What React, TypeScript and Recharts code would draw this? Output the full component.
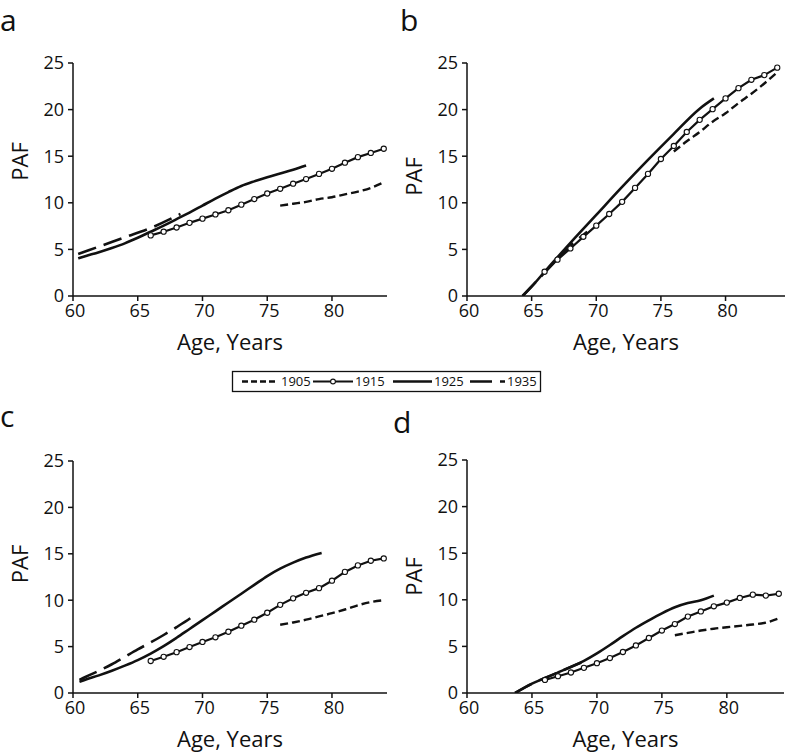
import { Line, LineChart, XAxis, YAxis } from "recharts";

const INK = "#111";
const FONT = "'Open Sans', sans-serif";

const X_TICKS = [60, 65, 70, 75, 80];
const Y_TICKS = [0, 5, 10, 15, 20, 25];

// ages shared by the 1905 and 1915 cohorts in every panel
const AGES_1905 = [76, 77, 78, 79, 80, 81, 82, 83, 84];
const AGES_1915 = [66, 67, 68, 69, 70, 71, 72, 73, 74, 75, 76, 77, 78, 79, 80, 81, 82, 83, 84];

// panel a
const A_PAF_1905 = [9.7, 9.9, 10.1, 10.4, 10.6, 10.9, 11.2, 11.6, 12.2];
const A_PAF_1915 = [6.5, 6.9, 7.35, 7.85, 8.3, 8.75, 9.2, 9.8, 10.4, 11.0, 11.5, 12.05, 12.55, 13.1, 13.65, 14.3, 14.9, 15.35, 15.8];
const A_AGES_1925 = [60.4, 61, 62, 63, 64, 65, 66, 67, 68, 69, 70, 71, 72, 73, 74, 75, 76, 77, 78];
const A_PAF_1925 = [4.05, 4.3, 4.7, 5.15, 5.65, 6.25, 6.9, 7.55, 8.25, 8.95, 9.7, 10.45, 11.15, 11.8, 12.3, 12.75, 13.15, 13.55, 14.0];
const A_AGES_1935 = [60.4, 62, 64, 66, 68.3];
const A_PAF_1935 = [4.5, 5.3, 6.3, 7.3, 8.8];

// panel b
const B_PAF_1905 = [15.5, 16.6, 17.6, 18.7, 19.6, 20.7, 21.7, 22.8, 24.0];
const B_PAF_1915 = [2.6, 3.9, 5.1, 6.35, 7.55, 8.8, 10.1, 11.6, 13.1, 14.7, 16.1, 17.6, 18.9, 20.05, 21.2, 22.3, 23.2, 23.7, 24.5];
const B_AGES_1925 = [64.3, 65, 66, 68, 70, 72, 74, 76, 78, 79.1];
const B_PAF_1925 = [0, 1.0, 2.6, 5.7, 8.7, 11.7, 14.6, 17.4, 20.1, 21.2];
const B_AGES_1935 = [64.3, 66, 68, 69.3];
const B_PAF_1935 = [0, 2.5, 5.4, 6.9];

// panel c
const C_PAF_1905 = [7.35, 7.6, 7.9, 8.25, 8.6, 9.0, 9.45, 9.8, 10.0];
const C_PAF_1915 = [3.45, 3.9, 4.4, 4.95, 5.5, 6.0, 6.6, 7.25, 7.9, 8.65, 9.5, 10.2, 10.8, 11.3, 12.1, 13.05, 13.75, 14.25, 14.5];
const C_AGES_1925 = [60.5, 61, 62, 63, 64, 65, 66, 67, 68, 69, 70, 71, 72, 73, 74, 75, 76, 77, 78, 79.2];
const C_PAF_1925 = [1.2, 1.45, 1.9, 2.4, 2.95, 3.55, 4.25, 5.05, 5.95, 6.9, 7.85, 8.8, 9.75, 10.7, 11.65, 12.6, 13.4, 14.05, 14.6, 15.1];
const C_AGES_1935 = [60.5, 61, 62, 63, 64, 65, 66, 67, 68, 69, 69.5];
const C_PAF_1935 = [1.4, 1.75, 2.4, 3.1, 3.9, 4.7, 5.45, 6.25, 7.1, 8.0, 8.5];

// panel d
const D_PAF_1905 = [6.2, 6.45, 6.7, 6.9, 7.05, 7.2, 7.35, 7.55, 8.0];
const D_PAF_1915 = [1.4, 1.8, 2.2, 2.7, 3.2, 3.75, 4.4, 5.1, 5.9, 6.7, 7.4, 8.2, 8.75, 9.3, 9.7, 10.2, 10.55, 10.45, 10.65];
const D_AGES_1925 = [63.7, 65, 66, 67, 68, 69, 70, 71, 72, 73, 74, 75, 76, 77, 78, 79];
const D_PAF_1925 = [0, 1.0, 1.6, 2.2, 2.8, 3.45, 4.25, 5.15, 6.1, 7.0, 7.8, 8.55, 9.2, 9.65, 9.95, 10.45];
const D_AGES_1935 = [63.7, 65, 67, 69];
const D_PAF_1935 = [0, 1.0, 2.2, 3.4];

type Pt = { age: number; paf: number };
const zip = (ages: number[], paf: number[]): Pt[] => ages.map((age, i) => ({ age, paf: paf[i] }));

type PanelProps = {
  left: number;
  top: number;
  width: number;
  height: number;
  margin: { top: number; right: number; left: number; bottom: number };
  xMax: number;
  pafShift: number;
  s1905: Pt[];
  s1915: Pt[];
  s1925: Pt[];
  s1935: Pt[];
};

const xTitle = (props: any) => {
  const vb = props.viewBox;
  return (
    <text x={vb.x + vb.width / 2} y={vb.y + 54} textAnchor="middle" fill={INK} fontSize={22} fontFamily={FONT}>
      Age, Years
    </text>
  );
};

const yTitle = (shift: number) => (props: any) => {
  const vb = props.viewBox;
  const x = vb.x + vb.width - 45;
  const y = vb.y + vb.height / 2 + shift;
  return (
    <text x={x} y={y} transform={`rotate(-90 ${x} ${y})`} textAnchor="middle" fill={INK} fontSize={22} fontFamily={FONT}>
      PAF
    </text>
  );
};

function Panel(p: PanelProps) {
  return (
    <div style={{ position: "absolute", left: p.left, top: p.top }}>
      <LineChart width={p.width} height={p.height} margin={p.margin}>
        <XAxis
          dataKey="age"
          type="number"
          domain={[60, p.xMax]}
          ticks={X_TICKS}
          allowDataOverflow
          height={56}
          tickSize={5}
          tickMargin={3}
          axisLine={{ stroke: INK, strokeWidth: 1.5 }}
          tickLine={{ stroke: INK, strokeWidth: 1.5 }}
          tick={{ fill: INK, fontSize: 18, fontFamily: FONT, dx: 2 }}
          label={xTitle}
        />
        <YAxis
          dataKey="paf"
          type="number"
          domain={[0, 25]}
          ticks={Y_TICKS}
          allowDataOverflow
          width={50}
          tickSize={5}
          tickMargin={4}
          axisLine={{ stroke: INK, strokeWidth: 1.5 }}
          tickLine={{ stroke: INK, strokeWidth: 1.5 }}
          tick={{ fill: INK, fontSize: 18, fontFamily: FONT }}
          label={yTitle(p.pafShift)}
        />
        <Line data={p.s1905} dataKey="paf" type="monotone" stroke={INK} strokeWidth={2.4} strokeDasharray="8 4" dot={false} isAnimationActive={false} />
        <Line data={p.s1935} dataKey="paf" type="monotone" stroke={INK} strokeWidth={2.6} strokeDasharray="19 8" dot={false} isAnimationActive={false} />
        <Line data={p.s1925} dataKey="paf" type="monotone" stroke={INK} strokeWidth={2.6} dot={false} isAnimationActive={false} />
        <Line
          data={p.s1915}
          dataKey="paf"
          type="linear"
          stroke={INK}
          strokeWidth={2.2}
          dot={{ r: 2.6, fill: "#fff", stroke: INK, strokeWidth: 1.1 }}
          isAnimationActive={false}
        />
      </LineChart>
    </div>
  );
}

function Overlay() {
  const letter = { fill: INK, fontSize: 30, fontFamily: FONT };
  const txt = { fill: INK, fontSize: 13, fontFamily: FONT };
  return (
    <svg width={787} height={755} style={{ position: "absolute", left: 0, top: 0, pointerEvents: "none" }}>
      <text x={0} y={31} {...letter}>a</text>
      <text x={400} y={31} {...letter}>b</text>
      <text x={0} y={427} {...letter}>c</text>
      <text x={393} y={433} {...letter}>d</text>
      <rect x={232.5} y={371.5} width={308} height={20} fill="#fff" stroke={INK} strokeWidth={1.3} />
      <line x1={242} y1={381.5} x2={278} y2={381.5} stroke={INK} strokeWidth={2.4} strokeDasharray="6 3" />
      <text x={281} y={386} {...txt}>1905</text>
      <line x1={313} y1={381.5} x2={353} y2={381.5} stroke={INK} strokeWidth={2.2} />
      <circle cx={333} cy={381.5} r={2.4} fill="#fff" stroke={INK} strokeWidth={1.1} />
      <text x={355} y={386} {...txt}>1915</text>
      <line x1={393} y1={381.5} x2={432} y2={381.5} stroke={INK} strokeWidth={2.6} />
      <text x={434} y={386} {...txt}>1925</text>
      <line x1={470} y1={381.5} x2={505} y2={381.5} stroke={INK} strokeWidth={2.6} strokeDasharray="22 8" />
      <text x={507} y={386} {...txt}>1935</text>
    </svg>
  );
}

export default function App() {
  return (
    <div style={{ position: "absolute", left: 0, top: 0, width: 787, height: 755, overflow: "hidden", background: "#fff" }}>
      <Panel
        left={0}
        top={0}
        width={393}
        height={360}
        margin={{ top: 63, right: 6, left: 23, bottom: 8 }}
        xMax={84.25}
        pafShift={-18}
        s1905={zip(AGES_1905, A_PAF_1905)}
        s1915={zip(AGES_1915, A_PAF_1915)}
        s1925={zip(A_AGES_1925, A_PAF_1925)}
        s1935={zip(A_AGES_1935, A_PAF_1935)}
      />
      <Panel
        left={390}
        top={0}
        width={397}
        height={360}
        margin={{ top: 63, right: 2, left: 27, bottom: 8 }}
        xMax={84.6}
        pafShift={-3}
        s1905={zip(AGES_1905, B_PAF_1905)}
        s1915={zip(AGES_1915, B_PAF_1915)}
        s1925={zip(B_AGES_1925, B_PAF_1925)}
        s1935={zip(B_AGES_1935, B_PAF_1935)}
      />
      <Panel
        left={0}
        top={398}
        width={393}
        height={357}
        margin={{ top: 63, right: 6, left: 23, bottom: 6 }}
        xMax={84.25}
        pafShift={-13}
        s1905={zip(AGES_1905, C_PAF_1905)}
        s1915={zip(AGES_1915, C_PAF_1915)}
        s1925={zip(C_AGES_1925, C_PAF_1925)}
        s1935={zip(C_AGES_1935, C_PAF_1935)}
      />
      <Panel
        left={390}
        top={397}
        width={397}
        height={357}
        margin={{ top: 63, right: 3, left: 27, bottom: 5 }}
        xMax={84.4}
        pafShift={0}
        s1905={zip(AGES_1905, D_PAF_1905)}
        s1915={zip(AGES_1915, D_PAF_1915)}
        s1925={zip(D_AGES_1925, D_PAF_1925)}
        s1935={zip(D_AGES_1935, D_PAF_1935)}
      />
      <Overlay />
    </div>
  );
}
